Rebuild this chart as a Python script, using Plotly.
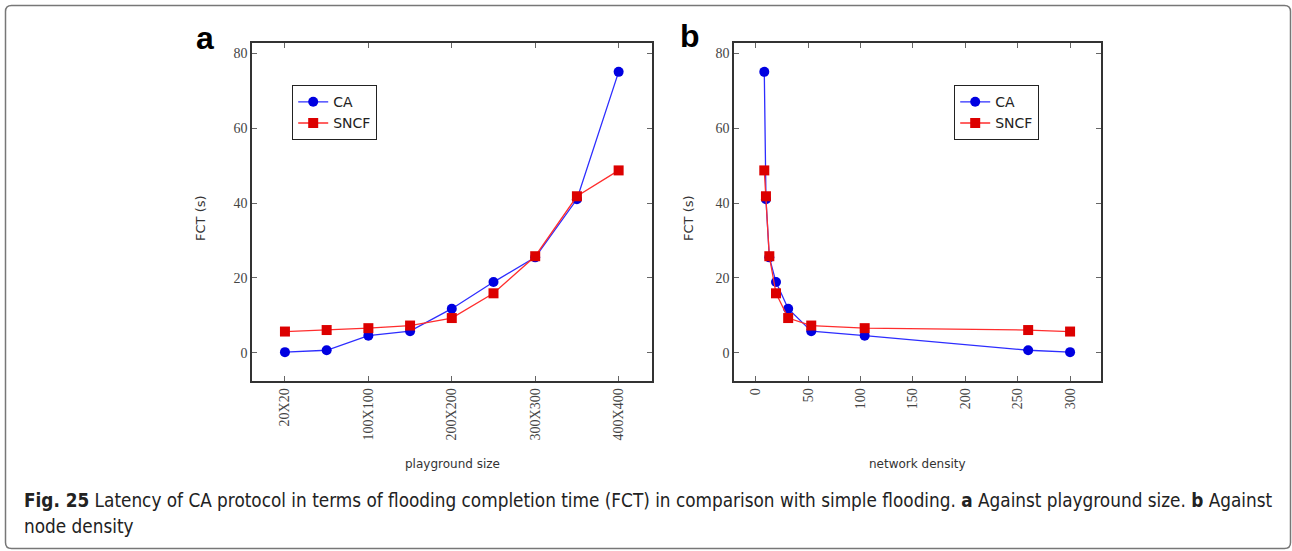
import plotly.graph_objects as go

W, H = 1292, 551

# ---- data ----
playground_idx = [0, 1, 2, 3, 4, 5, 6, 7, 8]
playground_tickvals = [0, 2, 4, 6, 8]
playground_ticktext = ["20X20", "100X100", "200X200", "300X300", "400X400"]
ca_fct = [0.2, 0.7, 4.6, 5.8, 11.8, 18.9, 25.5, 41.0, 75.0]
sncf_fct = [5.7, 6.1, 6.6, 7.3, 9.3, 15.9, 25.8, 41.8, 48.7]
density = [300, 260, 104, 53, 31, 19.4, 13, 9.8, 8.2]
y_ticks = [0, 20, 40, 60, 80]
density_ticks = [0, 50, 100, 150, 200, 250, 300]

def px(x):
    return x / W

def py(y):
    return 1 - y / H

CA_LINE = "rgb(45,45,255)"
CA_MARK = "rgb(0,0,225)"
SN_LINE = "rgb(255,45,45)"
SN_MARK = "rgb(220,0,0)"

fig = go.Figure()

def add_series(x, xa, ya, leg):
    fig.add_trace(go.Scatter(
        x=x, y=ca_fct, name="CA", mode="lines+markers", xaxis=xa, yaxis=ya, legend=leg,
        line=dict(color=CA_LINE, width=1.3),
        marker=dict(symbol="circle", size=10, color=CA_MARK)))
    fig.add_trace(go.Scatter(
        x=x, y=sncf_fct, name="SNCF", mode="lines+markers", xaxis=xa, yaxis=ya, legend=leg,
        line=dict(color=SN_LINE, width=1.3),
        marker=dict(symbol="square", size=10, color=SN_MARK)))

add_series(playground_idx, "x", "y", "legend")
add_series(density, "x2", "y2", "legend2")

tickfont = dict(family="Liberation Serif, DejaVu Serif, serif", size=14, color="#444")
common_ax = dict(showgrid=False, zeroline=False, showline=True, linecolor="#333", linewidth=1.5,
                 mirror="allticks", ticks="inside", ticklen=5, tickcolor="#666", tickwidth=1,
                 tickfont=tickfont)

legfont = dict(family="DejaVu Sans, sans-serif", size=14, color="#222")

fig.update_layout(
    width=W, height=H, margin=dict(l=0, r=0, t=0, b=0),
    paper_bgcolor="white", plot_bgcolor="white",
    xaxis=dict(domain=[px(252), px(652)], range=[-0.79, 8.8], tickvals=playground_tickvals,
               ticktext=playground_ticktext, tickangle=-90, anchor="y", **common_ax),
    yaxis=dict(domain=[py(381), py(43)], range=[-7.5, 82.7], tickvals=y_ticks, anchor="x", **common_ax),
    xaxis2=dict(domain=[px(734), px(1101)], range=[-20.7, 329.5], tickvals=density_ticks,
                tickangle=-90, anchor="y2", **common_ax),
    yaxis2=dict(domain=[py(381), py(43)], range=[-7.5, 82.7], tickvals=y_ticks, anchor="x2", **common_ax),
    legend=dict(x=px(292), y=py(85), xanchor="left", yanchor="top", bgcolor="white",
                bordercolor="#222", borderwidth=1.2, font=legfont),
    legend2=dict(x=px(954), y=py(85), xanchor="left", yanchor="top", bgcolor="white",
                 bordercolor="#222", borderwidth=1.2, font=legfont),
    showlegend=True,
)

def ann(text, x, y, size, family="DejaVu Sans, sans-serif", color="#333", angle=0,
        xanchor="center", yanchor="middle"):
    fig.add_annotation(text=text, x=px(x), y=py(y), xref="paper", yref="paper", showarrow=False,
                       textangle=angle, xanchor=xanchor, yanchor=yanchor,
                       font=dict(family=family, size=size, color=color))

# axis titles
ann("FCT (s)", 200, 218, 13, angle=-90)
ann("FCT (s)", 688, 218, 13, angle=-90)
ann("playground size", 452, 464, 12)
ann("network density", 917, 464, 12)

# panel letters
ann("<b>a</b>", 205, 38, 32, family="Liberation Sans, Arial, sans-serif", color="black")
ann("<b>b</b>", 690, 36, 32, family="Liberation Sans, Arial, sans-serif", color="black")

# caption
cap_font = "Liberation Sans Narrow, DejaVu Sans Condensed, Open Sans, sans-serif"
ann("<b>Fig. 25</b> Latency of CA protocol in terms of flooding completion time (FCT) in comparison with "
    "simple flooding. <b>a</b> Against playground size. <b>b</b> Against",
    22, 500, 18.8, family=cap_font, color="#222", xanchor="left")
ann("node density", 22, 526, 18.8, family=cap_font, color="#222", xanchor="left")

# outer rounded frame
x0, x1, y0, y1, r = 5.5, 1290.5, 5.5, 548.5, 6
path = (f"M {px(x0)},{py(y0 + r)} Q {px(x0)},{py(y0)} {px(x0 + r)},{py(y0)} "
        f"L {px(x1 - r)},{py(y0)} Q {px(x1)},{py(y0)} {px(x1)},{py(y0 + r)} "
        f"L {px(x1)},{py(y1 - r)} Q {px(x1)},{py(y1)} {px(x1 - r)},{py(y1)} "
        f"L {px(x0 + r)},{py(y1)} Q {px(x0)},{py(y1)} {px(x0)},{py(y1 - r)} Z")
fig.add_shape(type="path", path=path, xref="paper", yref="paper",
              line=dict(color="#777", width=1.5))

fig.write_html("out.html")
